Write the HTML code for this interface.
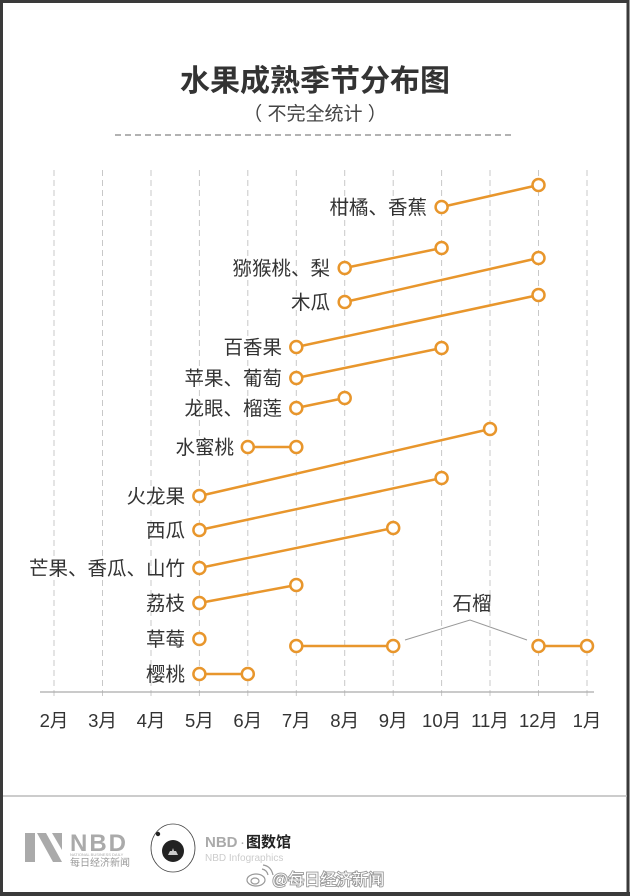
<!DOCTYPE html>
<html><head><meta charset="utf-8">
<style>
html,body{margin:0;padding:0;background:#fff;}
body{width:630px;height:896px;overflow:hidden;}
svg{display:block;}
text{font-family:"Liberation Sans","Noto Sans CJK SC",sans-serif;}
</style></head>
<body>
<svg width="630" height="896" viewBox="0 0 630 896" xmlns="http://www.w3.org/2000/svg">
<rect x="0" y="0" width="630" height="896" fill="#fff"/>
<!-- frame -->
<rect x="1.5" y="1.5" width="626.5" height="892" fill="none" stroke="#3a3a3a" stroke-width="3"/>
<rect x="0" y="892" width="630" height="4" fill="#3a3a3a"/>

<!-- title -->
<text x="315" y="91" font-size="30" font-weight="bold" fill="#333" text-anchor="middle">水果成熟季节分布图</text>
<text x="315" y="120" font-size="19" fill="#444" text-anchor="middle">（ 不完全统计 ）</text>
<line x1="115" y1="135" x2="515" y2="135" stroke="#999" stroke-width="1.5" stroke-dasharray="6,4"/>

<!-- grid -->
<g stroke="#c8c8c8" stroke-width="1" stroke-dasharray="6,4">
<line x1="54" y1="170" x2="54" y2="697"/>
<line x1="102.5" y1="170" x2="102.5" y2="697"/>
<line x1="151" y1="170" x2="151" y2="697"/>
<line x1="199.4" y1="170" x2="199.4" y2="697"/>
<line x1="247.8" y1="170" x2="247.8" y2="697"/>
<line x1="296.3" y1="170" x2="296.3" y2="697"/>
<line x1="344.7" y1="170" x2="344.7" y2="697"/>
<line x1="393.2" y1="170" x2="393.2" y2="697"/>
<line x1="441.6" y1="170" x2="441.6" y2="697"/>
<line x1="490" y1="170" x2="490" y2="697"/>
<line x1="538.5" y1="170" x2="538.5" y2="697"/>
<line x1="587" y1="170" x2="587" y2="697"/>
</g>
<line x1="40" y1="692" x2="594" y2="692" stroke="#aaa" stroke-width="1.2"/>

<!-- month labels -->
<g font-size="18.5" fill="#333" text-anchor="middle">
<text x="54" y="727">2月</text>
<text x="102.5" y="727">3月</text>
<text x="151" y="727">4月</text>
<text x="199.4" y="727">5月</text>
<text x="247.8" y="727">6月</text>
<text x="296.3" y="727">7月</text>
<text x="344.7" y="727">8月</text>
<text x="393.2" y="727">9月</text>
<text x="441.6" y="727">10月</text>
<text x="490" y="727">11月</text>
<text x="538.5" y="727">12月</text>
<text x="587" y="727">1月</text>
</g>

<!-- lines -->
<g stroke="#E8962C" stroke-width="2.5" fill="none">
<line x1="441.6" y1="207" x2="538.5" y2="185"/>
<line x1="344.7" y1="268" x2="441.6" y2="248"/>
<line x1="344.7" y1="302" x2="538.5" y2="258"/>
<line x1="296.3" y1="347" x2="538.5" y2="295"/>
<line x1="296.3" y1="378" x2="441.6" y2="348"/>
<line x1="296.3" y1="408" x2="344.7" y2="398"/>
<line x1="247.8" y1="447" x2="296.3" y2="447"/>
<line x1="199.4" y1="496" x2="490" y2="429"/>
<line x1="199.4" y1="530" x2="441.6" y2="478"/>
<line x1="199.4" y1="568" x2="393.2" y2="528"/>
<line x1="199.4" y1="603" x2="296.3" y2="585"/>
<line x1="296.3" y1="646" x2="393.2" y2="646"/>
<line x1="538.5" y1="646" x2="587" y2="646"/>
<line x1="199.4" y1="674" x2="247.8" y2="674"/>
</g>
<!-- pomegranate connector -->
<polyline points="405,640 470,620 527,640" fill="none" stroke="#999" stroke-width="1"/>

<!-- circles -->
<g stroke="#E8962C" stroke-width="2.5" fill="#fff">
<circle cx="441.6" cy="207" r="6"/><circle cx="538.5" cy="185" r="6"/>
<circle cx="344.7" cy="268" r="6"/><circle cx="441.6" cy="248" r="6"/>
<circle cx="344.7" cy="302" r="6"/><circle cx="538.5" cy="258" r="6"/>
<circle cx="296.3" cy="347" r="6"/><circle cx="538.5" cy="295" r="6"/>
<circle cx="296.3" cy="378" r="6"/><circle cx="441.6" cy="348" r="6"/>
<circle cx="296.3" cy="408" r="6"/><circle cx="344.7" cy="398" r="6"/>
<circle cx="247.8" cy="447" r="6"/><circle cx="296.3" cy="447" r="6"/>
<circle cx="199.4" cy="496" r="6"/><circle cx="490" cy="429" r="6"/>
<circle cx="199.4" cy="530" r="6"/><circle cx="441.6" cy="478" r="6"/>
<circle cx="199.4" cy="568" r="6"/><circle cx="393.2" cy="528" r="6"/>
<circle cx="199.4" cy="603" r="6"/><circle cx="296.3" cy="585" r="6"/>
<circle cx="199.4" cy="639" r="6"/>
<circle cx="296.3" cy="646" r="6"/><circle cx="393.2" cy="646" r="6"/>
<circle cx="538.5" cy="646" r="6"/><circle cx="587" cy="646" r="6"/>
<circle cx="199.4" cy="674" r="6"/><circle cx="247.8" cy="674" r="6"/>
</g>

<!-- labels -->
<g font-size="19.5" fill="#333" text-anchor="end">
<text x="427" y="214">柑橘、香蕉</text>
<text x="330" y="275">猕猴桃、梨</text>
<text x="330" y="309">木瓜</text>
<text x="282" y="354">百香果</text>
<text x="282" y="385">苹果、葡萄</text>
<text x="282" y="415">龙眼、榴莲</text>
<text x="234" y="454">水蜜桃</text>
<text x="185" y="503">火龙果</text>
<text x="185" y="537">西瓜</text>
<text x="185" y="575">芒果、香瓜、山竹</text>
<text x="185" y="610">荔枝</text>
<text x="185" y="646">草莓</text>
<text x="185" y="681">樱桃</text>
</g>
<text x="472" y="610" font-size="19.5" fill="#333" text-anchor="middle">石榴</text>

<!-- footer -->
<line x1="3" y1="796" x2="627" y2="796" stroke="#bbb" stroke-width="1.5"/>
<!-- NBD logo -->
<g fill="#aaa">
<polygon points="25,833 35,833 35,862 25,862"/>
<polygon points="37,833 46,833 62,862 53,862"/>
<polygon points="52,833 62,833 62,850"/>
</g>
<text x="70" y="851" font-size="24" font-weight="bold" fill="#aaa" letter-spacing="2">NBD</text>
<text x="70" y="856" font-size="4" fill="#aaa">NATIONAL BUSINESS DAILY</text>
<text x="70" y="866" font-size="10" fill="#999">每日经济新闻</text>
<!-- infographics logo -->
<ellipse cx="173" cy="848" rx="22" ry="24" fill="none" stroke="#444" stroke-width="0.8"/>
<circle cx="173" cy="851" r="11" fill="#222"/>
<path d="M168,855 L178,855 L176,851 L174,851 L173,848 L172,851 L170,851 Z" fill="#ccc"/>
<circle cx="158" cy="834" r="2.2" fill="#222"/>
<text x="205" y="847" font-size="15" font-weight="bold" fill="#aaa">NBD</text>
<text x="240" y="847" font-size="15" fill="#aaa">·</text>
<text x="246" y="847" font-size="15" font-weight="bold" fill="#222">图数馆</text>
<text x="205" y="861" font-size="10" fill="#ccc">NBD Infographics</text>
<!-- weibo watermark -->
<g fill="none" stroke="#999" stroke-width="1.2">
<ellipse cx="256" cy="880" rx="9" ry="6"/>
<ellipse cx="255" cy="881" rx="4" ry="3"/>
<path d="M262,869 q5,1 6,6"/>
<path d="M263,865 q8,1 10,10"/>
</g>
<text x="272" y="885" font-size="16" fill="#fff" stroke="#999" stroke-width="1.8" paint-order="stroke">@每日经济新闻</text>
</svg>
</body></html>
